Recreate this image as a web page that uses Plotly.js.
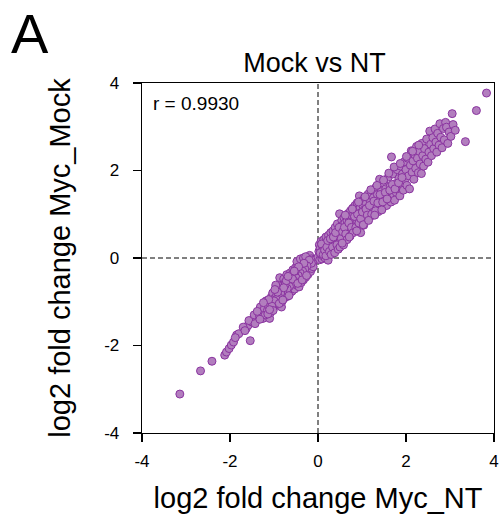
<!DOCTYPE html>
<html>
<head>
<meta charset="utf-8">
<script src="https://cdn.plot.ly/plotly-3.0.1.min.js"></script>
<style>
html, body { margin: 0; padding: 0; background: #ffffff; }
#chart { width: 501px; height: 519px; }
</style>
</head>
<body>
<div id="chart"></div>
<script>
// log2 fold change Myc_NT (x) vs log2 fold change Myc_Mock (y)
var lowerX = [-3.14,-2.67,-2.41,-2.12,-2.08,-2.02,-1.97,-1.92,-1.85,-1.80,-1.54,-1.63,-1.59,-1.51,-1.48,-1.40,-1.36,-1.29,-1.25,-1.10,-1.17,-1.06,-0.95,-0.83,-0.72,-0.83,-1.88,-1.70,-1.66,-1.57,-1.45,-1.43,-1.33,-1.31,-1.27,-1.22,-1.20,-1.18,-1.15,-1.13,-1.08,-1.05,-1.03,-1.01,-0.99,-0.97,-0.94,-0.92,-0.91,-0.89,-0.87,-0.86,-0.84,-0.82,-0.81,-0.79,-0.78,-0.77,-0.76,-0.74,-0.73,-0.71,-0.70,-0.69,-0.68,-0.66,-0.65,-0.64,-0.63,-0.62,-0.60,-0.59,-0.58,-0.57,-0.56,-0.55,-0.54,-0.53,-0.52,-0.51,-0.50,-0.49,-0.48,-0.47,-0.46,-0.45,-0.44,-0.43,-0.42,-0.41,-0.40,-0.39,-0.38,-0.37,-0.36,-0.35,-0.34,-0.33,-0.32,-0.31,-0.30,-0.29,-0.28,-0.27,-0.26,-0.25,-0.24,-0.23,-0.22,-0.21,-0.20,-0.19,-0.18,-0.17,-0.16,-0.15,-0.14,-0.12,-0.11,-0.09,-0.48,-0.40,-0.33,-0.28,-0.15,-0.20,-0.25,-0.30,-0.35,-0.40,-0.45,-0.50,-0.55,-0.60,-0.65,-0.70,-0.75,-0.80,-0.85,-0.90,-0.95,-1.00,-1.05,-1.12,-0.62,-0.52,-0.32,-0.44,-0.72,-0.78,-0.92,-0.96,-1.14,-1.24,-1.38,-1.32,-1.02,-0.88,-0.66,-0.58,-0.46,-0.36,-0.26,-0.98,-1.10,-0.80,-0.68,-0.54];
var lowerY = [-3.11,-2.58,-2.36,-2.22,-2.15,-2.07,-1.99,-1.92,-1.76,-1.73,-1.89,-1.61,-1.54,-1.46,-1.41,-1.42,-1.27,-1.19,-1.38,-1.38,-1.04,-0.89,-0.74,-0.58,-0.81,-1.12,-1.82,-1.58,-1.66,-1.43,-1.30,-1.50,-1.33,-1.12,-1.26,-1.16,-1.30,-0.98,-1.20,-1.08,-1.25,-1.02,-0.80,-1.14,-0.93,-1.05,-0.85,-0.67,-0.98,-0.78,-0.45,-0.90,-0.70,-1.00,-0.82,-0.62,-0.48,-0.92,-0.74,-0.55,-0.66,-0.38,-0.88,-0.60,-0.72,-0.47,-0.82,-0.56,-0.34,-0.68,-0.44,-0.76,-0.58,-0.27,-0.50,-0.64,-0.38,-0.71,-0.46,-0.22,-0.56,-0.33,-0.62,-0.42,-0.18,-0.52,-0.28,-0.66,-0.38,-0.12,-0.47,-0.24,-0.56,-0.33,-0.08,-0.42,-0.20,-0.50,-0.29,-0.05,-0.37,-0.15,-0.44,-0.24,-0.02,-0.32,-0.10,-0.38,-0.19,0.01,-0.27,0.06,-0.08,-0.31,-0.16,-0.02,-0.24,-0.10,-0.20,-0.05,-0.08,-0.02,0.00,0.03,-0.12,-0.05,-0.18,-0.25,-0.30,-0.35,-0.40,-0.45,-0.52,-0.60,-0.65,-0.70,-0.62,-0.76,-0.80,-0.88,-0.95,-0.98,-1.10,-0.95,-0.40,-0.30,-0.12,-0.20,-0.52,-0.68,-0.78,-0.62,-1.28,-1.02,-1.22,-1.40,-1.20,-1.04,-0.86,-0.48,-0.58,-0.50,-0.40,-0.72,-1.18,-0.96,-0.42,-0.30];
var upperX = [0.00,0.02,0.03,0.04,0.05,0.06,0.07,0.08,0.09,0.10,0.11,0.12,0.13,0.14,0.15,0.16,0.17,0.18,0.19,0.20,0.21,0.22,0.23,0.24,0.25,0.26,0.27,0.28,0.29,0.30,0.31,0.32,0.33,0.34,0.35,0.36,0.37,0.38,0.39,0.40,0.41,0.42,0.43,0.44,0.45,0.46,0.47,0.48,0.49,0.50,0.51,0.52,0.53,0.54,0.55,0.56,0.57,0.58,0.59,0.60,0.61,0.62,0.63,0.64,0.65,0.66,0.67,0.68,0.69,0.70,0.71,0.72,0.73,0.74,0.75,0.76,0.77,0.78,0.79,0.80,0.81,0.82,0.83,0.84,0.85,0.86,0.87,0.88,0.89,0.90,0.91,0.92,0.93,0.94,0.95,0.96,0.97,0.98,0.99,1.00,1.02,1.03,1.05,1.06,1.08,1.10,1.11,1.13,1.14,1.16,1.18,1.19,1.21,1.23,1.24,1.26,1.28,1.30,1.32,1.33,1.35,1.37,1.39,1.40,1.42,1.44,1.46,1.48,1.50,1.52,1.54,1.56,1.58,1.60,1.62,1.64,1.66,1.67,1.68,1.70,1.72,1.74,1.76,1.78,1.80,1.82,1.84,1.86,1.88,1.90,1.92,1.94,1.96,1.98,2.00,2.02,2.04,2.06,2.08,2.10,2.12,2.14,2.16,2.18,2.20,2.22,2.24,2.26,2.28,2.30,2.32,2.35,2.36,2.38,2.40,2.42,2.45,2.47,2.50,2.52,2.54,2.56,2.58,2.61,2.63,2.66,2.68,2.70,2.72,2.75,2.77,2.79,2.82,2.85,2.87,2.90,2.92,2.95,2.98,3.02,3.05,3.07,3.12,3.35,3.60,3.83,0.05,0.08,0.12,0.15,0.18,0.20,0.22,0.26,0.28,0.30,0.33,0.35,0.38,0.40,0.43,0.46,0.48,0.50,0.53,0.56,0.58,0.60,0.63,0.66,0.70,0.73,0.76,0.80,0.83,0.86,0.90,0.93,0.97,1.01,1.04,1.09,1.12,1.17,1.22,1.27,1.31,1.36,1.41,1.47,1.53,1.57,1.63,1.69,1.75,1.83,1.91,0.62,0.78,0.92,1.07,1.20,1.34,1.49,1.61,1.73,1.87,2.01,2.15,2.29,0.55,0.71,0.88,1.03,1.15,1.29,1.45];
var upperY = [0.02,0.15,0.30,-0.04,0.22,0.08,0.38,0.14,-0.02,0.28,0.05,0.20,0.42,0.10,0.33,0.00,0.24,0.48,0.15,0.36,0.06,0.28,-0.05,0.52,0.19,0.40,0.10,0.31,0.58,0.22,0.45,0.14,0.36,0.62,0.27,0.50,0.18,0.40,0.70,0.31,0.56,0.22,0.46,0.78,0.36,0.62,0.27,0.52,1.01,0.42,0.70,0.32,0.58,0.86,0.47,0.75,0.38,0.64,0.92,0.53,0.80,0.43,0.69,0.96,0.58,0.85,0.49,0.74,1.02,0.63,0.90,0.54,0.79,1.08,0.68,0.95,0.59,0.84,1.14,0.73,1.00,0.64,0.89,1.20,0.78,1.05,0.68,0.94,1.26,0.83,1.10,0.74,0.99,1.42,0.88,1.15,0.58,1.04,1.30,0.93,1.20,0.82,1.10,1.38,0.98,1.25,0.88,1.15,1.46,1.04,1.32,0.95,1.21,1.55,1.10,1.38,1.00,1.27,1.62,1.16,1.45,1.06,1.33,1.80,1.22,1.52,1.13,1.40,1.70,1.29,1.58,1.20,1.47,1.85,1.36,1.64,1.28,2.31,1.53,1.92,1.43,1.32,1.70,1.50,2.02,1.60,1.82,1.42,2.10,1.68,1.92,1.55,2.20,1.78,2.02,1.66,2.28,1.88,1.58,2.12,2.45,1.96,2.22,1.80,2.36,2.05,2.55,2.28,1.95,2.44,2.15,1.93,2.62,2.34,2.10,2.50,2.26,2.72,2.19,2.42,2.90,2.60,2.34,2.75,2.50,2.95,2.65,2.42,2.85,2.58,3.07,2.76,2.52,2.96,2.70,3.10,2.99,2.62,2.88,2.78,3.30,3.05,2.92,2.66,3.37,3.77,0.12,0.32,0.08,0.18,0.05,0.25,0.40,0.15,0.44,0.08,0.25,0.48,0.12,0.58,0.30,0.20,0.70,0.25,0.45,0.60,0.30,0.70,0.55,0.42,0.80,0.50,0.70,0.58,0.95,0.70,1.00,0.80,0.90,1.05,0.75,1.12,0.98,1.20,1.00,1.30,1.08,1.26,1.45,1.28,1.50,1.35,1.55,1.68,1.58,1.72,1.84,0.98,1.12,1.28,1.40,1.56,1.66,1.78,1.94,2.08,2.16,2.32,2.44,2.58,0.34,0.48,0.62,0.76,0.86,0.98,1.10];
var tickVals = [-4, -2, 0, 2, 4];
var tickText = ['-4', '-2', '0', '2', '4'];
var panelLabel = 'A';
var chartTitle = 'Mock vs NT';
var xTitle = 'log2 fold change Myc_NT';
var yTitle = 'log2 fold change Myc_Mock';
var corrText = 'r = 0.9930';

var xVals = lowerX.concat(upperX);
var yVals = lowerY.concat(upperY);

var font = 'Liberation Sans, Arial, Helvetica, sans-serif';

var trace = {
  type: 'scatter',
  mode: 'markers',
  x: xVals,
  y: yVals,
  marker: {
    size: 8,
    color: '#b27ebe',
    line: { color: '#8a33a0', width: 1 }
  },
  hoverinfo: 'x+y',
  showlegend: false
};

var axisCommon = {
  range: [-4, 4],
  tickmode: 'array',
  tickvals: tickVals,
  ticktext: tickText,
  ticks: 'outside',
  ticklen: 8,
  tickwidth: 1.3,
  tickcolor: '#000',
  showline: true,
  linecolor: '#000',
  linewidth: 1.3,
  mirror: true,
  showgrid: false,
  zeroline: false,
  tickfont: { family: font, size: 17, color: '#000' }
};

var layout = {
  width: 501,
  height: 519,
  margin: { l: 142, r: 7, t: 83, b: 86 },
  paper_bgcolor: '#fff',
  plot_bgcolor: '#fff',
  font: { family: font, color: '#000' },
  title: {
    text: chartTitle,
    font: { family: font, size: 27, color: '#000' },
    xref: 'paper', x: 0.49, xanchor: 'center',
    yref: 'container', y: 1 - 63 / 519, yanchor: 'middle'
  },
  xaxis: Object.assign({}, axisCommon, {
    ticklabelstandoff: 4,
    title: { text: xTitle, font: { family: font, size: 29, color: '#000' }, standoff: 18 }
  }),
  yaxis: Object.assign({}, axisCommon, {
    ticklabelstandoff: 10,
    title: { text: yTitle, font: { family: font, size: 29, color: '#000' }, standoff: 25 }
  }),
  shapes: [
    { type: 'line', xref: 'x', yref: 'y', x0: 0, x1: 0, y0: -4, y1: 4, layer: 'below',
      line: { color: '#000', width: 1, dash: '5px,3px' } },
    { type: 'line', xref: 'x', yref: 'y', x0: -4, x1: 4, y0: 0, y1: 0, layer: 'below',
      line: { color: '#000', width: 1, dash: '5px,3px' } }
  ],
  annotations: [
    { text: panelLabel, xref: 'paper', yref: 'paper', x: (10 - 142) / 352, y: (433 - 33) / 350,
      xanchor: 'left', yanchor: 'middle', showarrow: false, borderpad: 0,
      font: { family: font, size: 56, color: '#000' } },
    { text: corrText, xref: 'paper', yref: 'paper', x: (151 - 142) / 352, y: (433 - 103.3) / 350,
      xanchor: 'left', yanchor: 'middle', showarrow: false,
      font: { family: font, size: 19, color: '#000' } }
  ]
};

Plotly.newPlot('chart', [trace], layout, { displayModeBar: false, staticPlot: true });
</script>
</body>
</html>
